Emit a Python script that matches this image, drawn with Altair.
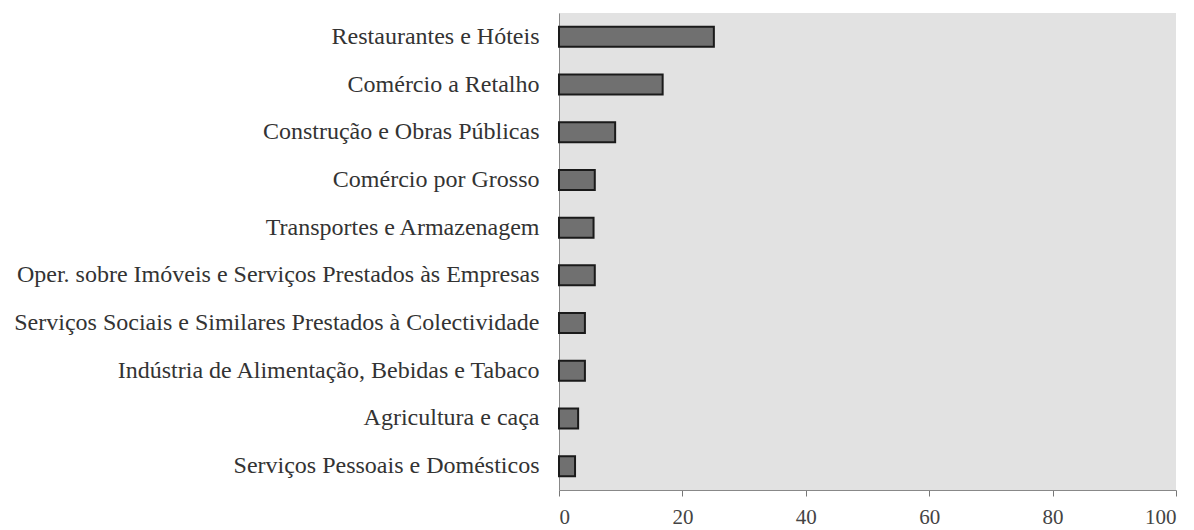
import altair as alt
import pandas as pd

categories = [
    "Restaurantes e Hóteis",
    "Comércio a Retalho",
    "Construção e Obras Públicas",
    "Comércio por Grosso",
    "Transportes e Armazenagem",
    "Oper. sobre Imóveis e Serviços Prestados às Empresas",
    "Serviços Sociais e Similares Prestados à Colectividade",
    "Indústria de Alimentação, Bebidas e Tabaco",
    "Agricultura e caça",
    "Serviços Pessoais e Domésticos",
]
values = [25.1, 16.8, 9.1, 5.8, 5.6, 5.8, 4.2, 4.2, 3.1, 2.6]
x_ticks = [0, 20, 40, 60, 80, 100]

df = pd.DataFrame({"categoria": categories, "valor": values})

chart = (
    alt.Chart(df)
    .mark_bar(color="#707070", stroke="#1a1a1a", strokeWidth=2)
    .encode(
        x=alt.X(
            "valor:Q",
            scale=alt.Scale(domain=[0, 100], nice=False),
            axis=alt.Axis(
                values=x_ticks,
                title=None,
                grid=False,
                labelFont="Liberation Serif",
                labelFontSize=21,
                labelColor="#444444",
                labelPadding=10,
                tickColor="#777777",
                tickSize=6,
                domainColor="#888888",
            ),
        ),
        y=alt.Y(
            "categoria:N",
            sort=categories,
            scale=alt.Scale(paddingInner=0.58, paddingOuter=0.29),
            axis=alt.Axis(
                title=None,
                ticks=False,
                labelFont="Liberation Serif",
                labelFontSize=24,
                labelColor="#333333",
                labelPadding=20,
                labelLimit=700,
                domainColor="#888888",
            ),
        ),
    )
    .properties(width=617, height=477, background="white")
    .configure_view(fill="#e2e2e2", stroke=None)
)

chart.save("out.html", embed_options={"renderer": "svg", "actions": False})
